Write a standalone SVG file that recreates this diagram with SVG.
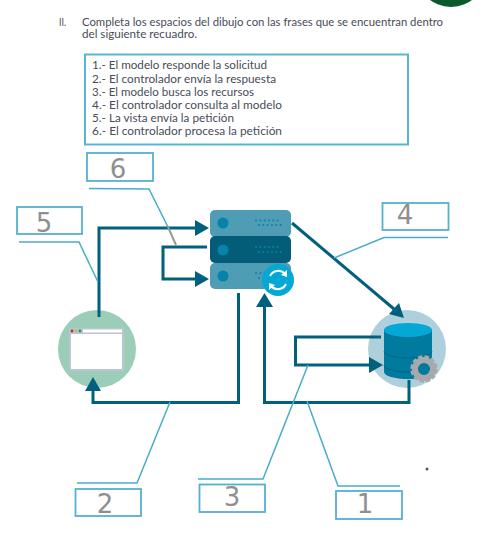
<svg xmlns="http://www.w3.org/2000/svg" width="489" height="549" viewBox="0 0 489 549">
<style>
text{font-family:"Lato","Liberation Sans",sans-serif;fill:#474c58;font-size:11px}
.d{font-family:"DejaVu Sans",sans-serif;font-size:26px;fill:#8f8f8f;text-anchor:middle}
.box{fill:#fff;stroke:#55b1cf;stroke-width:1.800}
.lead{fill:none;stroke:#4bacca;stroke-width:1.500}
.flow{fill:none;stroke:#01607d;stroke-width:3}
.head{fill:#01607d}
.dots{fill:none;stroke-width:2;stroke-linecap:round;stroke-dasharray:.1 4.2}
</style>
<rect width="489" height="549" fill="#fff"/>
<circle cx="451" cy="-28" r="35" fill="#0a5a2c"/>
<g id="instructions">
<text x="59" y="26" textLength="7" lengthAdjust="spacingAndGlyphs">II.</text>
<text x="82" y="26" textLength="361" lengthAdjust="spacingAndGlyphs">Completa los espacios del dibujo con las frases que se encuentran dentro</text>
<text x="82" y="38" textLength="115" lengthAdjust="spacingAndGlyphs">del siguiente recuadro.</text>
</g>
<g id="legend">
<rect x="85" y="54.500" width="323" height="90" fill="#fff" stroke="#5ab5d2" stroke-width="2"/>
<text x="92" y="69" textLength="175" lengthAdjust="spacingAndGlyphs">1.- El modelo responde la solicitud</text>
<text x="92" y="83" textLength="184" lengthAdjust="spacingAndGlyphs">2.- El controlador envía la respuesta</text>
<text x="92" y="96" textLength="162" lengthAdjust="spacingAndGlyphs">3.- El modelo busca los recursos</text>
<text x="92" y="109" textLength="190" lengthAdjust="spacingAndGlyphs">4.- El controlador consulta al modelo</text>
<text x="92" y="122" textLength="142" lengthAdjust="spacingAndGlyphs">5.- La vista envía la petición</text>
<text x="92" y="135" textLength="190" lengthAdjust="spacingAndGlyphs">6.- El controlador procesa la petición</text>
</g>
<g id="view">
<circle cx="97" cy="349" r="39" fill="#9bcdb8"/>
<rect x="70" y="329" width="53" height="41" fill="#fff" stroke="#b9c6d2" stroke-width="2"/>
<rect x="69" y="328" width="55" height="6" fill="#b9c6d2"/>
<rect x="83" y="329.500" width="39" height="3" fill="#fff"/>
<circle cx="72" cy="331" r="1.400" fill="#b5303f"/>
<circle cx="76" cy="331" r="1.400" fill="#e5b52e"/>
<circle cx="80" cy="331" r="1.400" fill="#1c9a68"/>
</g>
<g id="controller">
<rect x="210" y="210" width="81" height="27" rx="5" fill="#4f9db5"/>
<rect x="210" y="263" width="81" height="26" rx="5" fill="#4f9db5"/>
<rect x="210" y="236" width="81" height="27" rx="5" fill="#035c78"/>
<circle cx="223" cy="223" r="5.500" fill="#0683aa"/>
<circle cx="223" cy="250" r="5.500" fill="#0683aa"/>
<circle cx="223" cy="276" r="5.500" fill="#0683aa"/>
<path class="dots" stroke="#0683aa" d="M256 220.500H281M259 225H282M256 247H281M259 252H282M256 273H268M259 278H266"/>
<circle cx="278" cy="280" r="16" fill="#04a8d4"/>
<path d="M270 276a9 9 0 0 1 15-2M286 284a9 9 0 0 1-15 2" fill="none" stroke="#fff" stroke-width="2"/>
<path d="M287 270l0 7-6-2zM269 290l0-7 6 2z" fill="#fff"/>
</g>
<g id="model">
<circle cx="407" cy="349" r="39" fill="#aed0dc"/>
<path d="M384 330V372a24 7 0 0 0 48 0V330z" fill="#007a9e"/>
<path d="M384 351a24 7 0 0 0 48 0M384 365a24 7 0 0 0 48 0" fill="none" stroke="#035c78" stroke-width=".7"/>
<ellipse cx="408" cy="330" rx="24" ry="7" fill="#04a8d4"/>
<circle cx="424" cy="369" r="9" fill="none" stroke="#a7a9ac" stroke-width="6"/>
<circle cx="424" cy="369" r="12" fill="none" stroke="#a7a9ac" stroke-width="3.500" stroke-dasharray="4.200 2.100"/>
<circle cx="424" cy="369" r="4.500" fill="#007a9e"/>
</g>
<g id="connectors">
<path class="flow" d="M99 317V228H196"/>
<path class="head" d="M195 220L209 228L195 236z"/>
<path class="flow" d="M207 247H163V279H196"/>
<path class="head" d="M195 271L209 279L195 287z"/>
<path class="flow" d="M238.500 293V402.500H93V390"/>
<path class="head" d="M85 391L93 377L101 391z"/>
<path class="flow" d="M409 380V402.500H264.500V306"/>
<path class="head" d="M256 307L264.500 293L273 307z"/>
<path class="flow" d="M292 223L394 309"/>
<path class="head" d="M404 318L389 314L399 303z"/>
<path class="flow" d="M381 337H295.500V365H370"/>
<path class="head" d="M369 357L383 365L369 373z"/>
</g>
<g id="leaders">
<path class="lead" d="M19 242H79L98 282"/>
<path class="lead" d="M89 188.500L149 189L168 227"/>
<path d="M168 227L176 245" fill="none" stroke="#9a9a9a" stroke-width="2"/>
<path class="lead" d="M334 258L384 237.500H448"/>
<path class="lead" d="M170 402L137 483H77"/>
<path class="lead" d="M198 479H263L308 365"/>
<path class="lead" d="M307 401L338 486H400"/>
</g>
<g id="label-6"><rect class="box" x="87" y="153" width="66" height="28"/><text class="d" x="118" y="178">6</text></g>
<g id="label-5"><rect class="box" x="17" y="207" width="65" height="27"/><text class="d" x="44" y="232">5</text></g>
<g id="label-4"><rect class="box" x="382.500" y="203" width="66" height="27"/><text class="d" x="405" y="224">4</text></g>
<g id="label-2"><rect class="box" x="75.500" y="489" width="65.500" height="27"/><text class="d" x="105" y="513">2</text></g>
<g id="label-3"><rect class="box" x="199.500" y="484.500" width="65.500" height="27.500"/><text class="d" x="232" y="506">3</text></g>
<g id="label-1"><rect class="box" x="336" y="491" width="66" height="28"/><text class="d" x="365" y="513">1</text></g>
<circle cx="427" cy="469" r="1.500" fill="#555"/>
</svg>
